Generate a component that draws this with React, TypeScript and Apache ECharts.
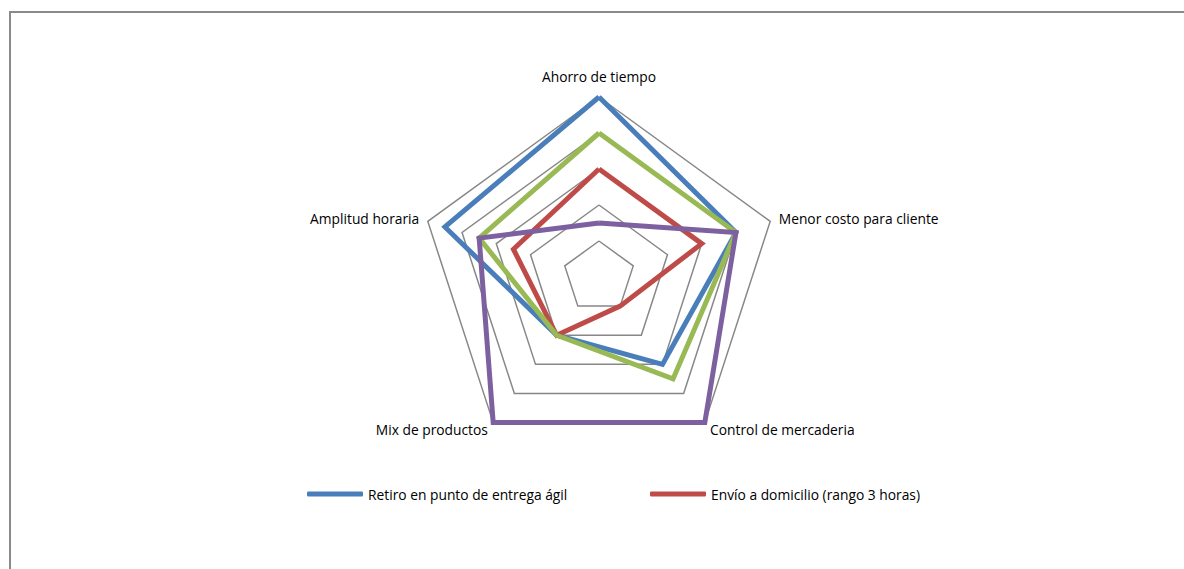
import React, { useEffect, useRef } from "react";
import * as echarts from "echarts";

// Categories in clockwise order starting at the top
const indicators = [
  "Ahorro de tiempo",
  "Menor costo para cliente",
  "Control de mercaderia",
  "Mix de productos",
  "Amplitud horaria",
];
const maxValue = 5;

const retiroName = "Retiro en punto de entrega ágil";
const envioName = "Envío a domicilio (rango 3 horas)";
const serie3Name = "Serie 3";
const serie4Name = "Serie 4";

const retiroValues = [5, 4, 3, 2, 4.5];
const envioValues = [3, 3, 1, 2, 2.5];
const serie3Values = [4, 4, 3.5, 2, 3.5];
const serie4Values = [1.5, 4, 5, 5, 3.5];

const FONT = "Open Sans";

// ECharts lays radar indicators counter-clockwise; reorder so they run clockwise
const order = [0, 4, 3, 2, 1];
const ccw = <T,>(arr: T[]) => order.map((i) => arr[i]);

export default function App() {
  const ref = useRef<HTMLDivElement>(null);
  useEffect(() => {
    document.body.style.margin = "0";
    document.body.style.overflow = "hidden";
    const chart = echarts.init(ref.current!, null, { renderer: "svg" });
    const mk = (name: string, values: number[], color: string) => ({
      type: "radar",
      name,
      symbol: "none",
      data: [{ value: ccw(values), name }],
      lineStyle: { color, width: 5, join: "miter" },
      itemStyle: { color },
    });
    const legendCommon = {
      top: 487,
      padding: 0,
      itemWidth: 56,
      itemHeight: 5,
      icon: "roundRect",
      textStyle: { fontFamily: FONT, fontSize: 13.8, color: "#000" },
    };
    chart.setOption({
      animation: false,
      textStyle: { fontFamily: FONT },
      graphic: [
        {
          type: "rect",
          shape: { x: 10, y: 12, width: 1400, height: 800 },
          style: { fill: "none", stroke: "#8a8a8a", lineWidth: 2 },
          silent: true,
        },
      ],
      legend: [
        { ...legendCommon, data: [retiroName], left: 307 },
        { ...legendCommon, data: [envioName], left: 650 },
      ],
      radar: {
        center: [599, 277],
        radius: 180,
        shape: "polygon",
        splitNumber: 5,
        startAngle: 90,
        nameGap: 9,
        indicator: ccw(indicators).map((n) => ({ name: n, min: 0, max: maxValue })),
        axisName: { color: "#000", fontFamily: FONT, fontSize: 13.8, lineHeight: 24 },
        axisLine: { show: false },
        axisTick: { show: false },
        axisLabel: { show: false },
        splitArea: { show: false },
        splitLine: { lineStyle: { color: "#878787", width: 1.5 } },
      },
      series: [
        mk(retiroName, retiroValues, "#4a7ebb"),
        mk(envioName, envioValues, "#be4b48"),
        mk(serie3Name, serie3Values, "#98b954"),
        mk(serie4Name, serie4Values, "#7d60a0"),
      ],
    });
    return () => chart.dispose();
  }, []);
  return <div ref={ref} style={{ width: 1184, height: 569 }} />;
}
